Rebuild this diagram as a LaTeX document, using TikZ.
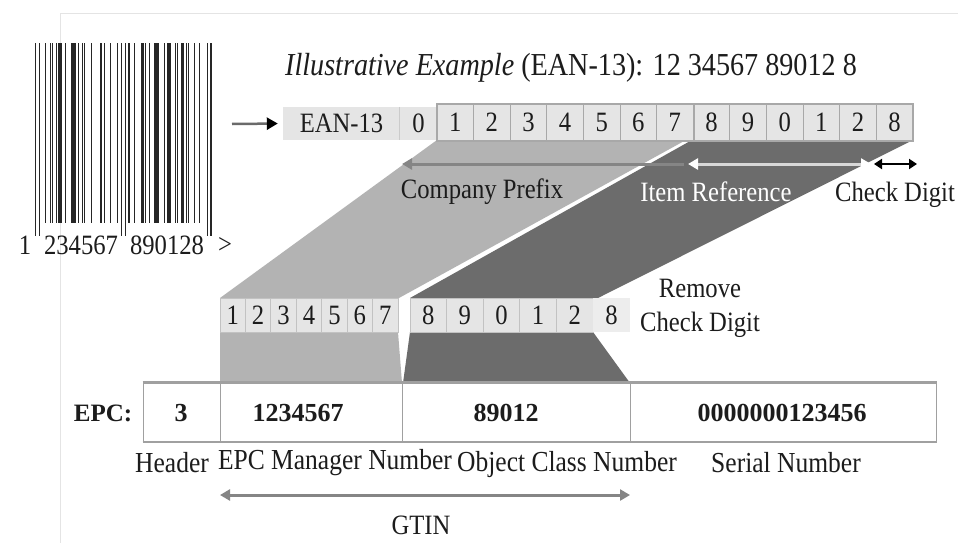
\documentclass[tikz,border=0pt]{standalone}
\usepackage{fontspec}
\setmainfont{Liberation Serif}[FakeStretch=0.88]
\newfontfamily\plainserif{Liberation Serif}
\usetikzlibrary{arrows.meta}
\definecolor{cellfill}{HTML}{E5E5E5}
\definecolor{cellline}{HTML}{A8A8A8}
\definecolor{bandlight}{HTML}{B3B3B3}
\definecolor{banddark}{HTML}{6C6C6C}
\definecolor{arrowgray}{HTML}{858585}
\definecolor{framegray}{HTML}{E4E4E4}
\definecolor{boxline}{HTML}{A0A0A0}
\definecolor{inkcol}{HTML}{1C1C1C}
\definecolor{pathlight}{HTML}{D8D8D8}
\tikzset{
  bigtri/.tip={Triangle[length=10pt,width=11pt]},
  whitetri/.tip={Triangle[length=10pt,width=11pt,color=white]},
  smalltri/.tip={Triangle[length=8pt,width=10pt]}
}
\begin{document}
\begin{tikzpicture}[x=1pt,y=-1pt,
  lbl/.style={font=\fontsize{28}{30}\selectfont, inner sep=0pt, text=inkcol},
  fieldlbl/.style={lbl, font=\fontsize{29}{31}\selectfont},
  boldlbl/.style={lbl, font=\plainserif\fontsize{26}{28}\selectfont\bfseries},
  topcell/.style={lbl, draw=cellline, line width=1pt, fill=cellfill,
    minimum width=36.6pt, minimum height=36pt},
  plaincell/.style={lbl, fill=cellfill, minimum height=33pt},
  midcell/.style={lbl, draw=cellline!70!white, line width=0.8pt, fill=cellfill,
    minimum width=36.6pt, minimum height=34pt},
  epccell/.style={draw=boxline, line width=1pt, fill=white, minimum height=58pt, inner sep=0pt}
]
\useasboundingbox (0,0) rectangle (958,543);
\fill[white] (0,0) rectangle (958,543);

% faint page frame
\draw[framegray, line width=1pt] (60,543) -- (60,14) -- (958,14);

% EAN-13 bar code of 1 234567 890128
\foreach \b [count=\i from 0] in {1,0,1,
  0,0,1,0,0,1,1, 0,1,1,1,1,0,1, 0,0,1,1,1,0,1, 0,1,1,0,0,0,1, 0,0,0,0,1,0,1, 0,0,1,0,0,0,1,
  0,1,0,1,0,
  1,0,0,1,0,0,0, 1,1,1,0,1,0,0, 1,1,1,0,0,1,0, 1,1,0,0,1,1,0, 1,1,0,1,1,0,0, 1,0,0,1,0,0,0,
  1,0,1} {
  \ifnum\b=1
    \fill[black!85] ({35+\i*1.863+0.2},43) rectangle ({35+(\i+1)*1.863-0.45},223);
  \fi
}
\foreach \i in {0,2,46,48,92,94}
  \fill[black!85] ({35+\i*1.863+0.2},43) rectangle ({35+(\i+1)*1.863-0.45},236);
\node[lbl] (bc1) at (25,245) {1};
\node[lbl] (bc2) at (81,245) {234567};
\node[lbl] (bc3) at (167,245) {890128};
\node[lbl] (bc4) at (225,245) {>};

% title
\node[lbl, font=\fontsize{32}{34}\selectfont] (title) at (571,68)
  {\textit{Illustrative Example} (EAN-13): 12 34567 89012 8};

% shaded bands mapping the digits down to the EPC fields
\fill[bandlight] (437,140) -- (686,140) -- (399,298) -- (220,298) -- cycle;
\fill[banddark] (692,140) -- (913,140) -- (598,298) -- (410,298) -- cycle;
\fill[bandlight] (220,332) -- (398,332) -- (402,383) -- (220,383) -- cycle;
\fill[banddark] (410,332) -- (593,332) -- (630,383) -- (403,383) -- cycle;

% top row: EAN-13 digits
\node[plaincell, minimum width=117pt] (ean) at (341.5,123.5) {EAN-13};
\node[plaincell, minimum width=37pt] (t0) at (418.5,123.5) {0};
\draw[cellline!60!white, line width=0.8pt] (t0.north west) -- (t0.south west);
\foreach \d [count=\i] in {1,2,3,4,5,6,7,8,9,0,1,2,8}
  \node[topcell] (t\i) at ({437+36.6*(\i-0.5)},122) {\d};
\draw[cellline, line width=2pt] (t1.north west) rectangle (t13.south east);
\draw[cellline, line width=2pt] (t7.north east) -- (t7.south east);

% arrow from the bar code
\coordinate (feedstart) at (232,124);
\draw[arrowgray!80!black, line width=2.5pt, -{Triangle[length=11pt,width=12pt,color=black]},
  shorten >=5pt] (feedstart) -- (ean.west);

% part markers under the top row
\coordinate (cpR) at (684,164);
\coordinate (cpL) at (402,164);
\draw[arrowgray, line width=3pt, -{bigtri}] (cpR) -- (cpL);
\coordinate (irL) at (688,164);
\coordinate (irR) at (871,164);
\draw[pathlight, line width=3pt, {whitetri}-{whitetri}] (irL) -- (irR);
\coordinate (cdL) at (874,164);
\coordinate (cdR) at (917,164);
\draw[black, line width=2.5pt, {smalltri}-{smalltri}] (cdL) -- (cdR);
\node[lbl] (cplbl) at (482,192) {Company Prefix};
\node[lbl, text=white] (irlbl) at (716,192) {Item Reference};
\node[lbl] (cdlbl) at (895,195) {Check Digit};

% middle row: digits without the check digit
\foreach \d [count=\i] in {1,2,3,4,5,6,7}
  \node[midcell, minimum width=25.43pt] (m\i) at ({220+25.43*(\i-0.5)},315) {\d};
\foreach \d [count=\i] in {8,9,0,1,2}
  \node[midcell] (n\i) at ({410+36.6*(\i-0.5)},315) {\d};
\node[lbl, fill=cellfill!70!white, minimum width=37pt, minimum height=34pt] (nchk) at (611.5,315) {8};
\node[lbl] (rmlbl1) at (700,288) {Remove};
\node[lbl] (rmlbl2) at (700,325) {Check Digit};

% EPC fields
\node[epccell, minimum width=77pt] (e1) at (181.5,412) {};
\node[epccell, minimum width=182pt] (e2) at (311,412) {};
\node[epccell, minimum width=228pt] (e3) at (516,412) {};
\node[epccell, minimum width=306pt] (e4) at (783,412) {};
\draw[boxline, line width=2.5pt] (e1.north west) -- (e4.north east);
\draw[boxline, line width=2pt] (e1.south west) -- (e4.south east);
\node[boldlbl, font=\plainserif\fontsize{25}{27}\selectfont\bfseries] (epclbl) at (103,413) {EPC:};
\node[boldlbl] (v1) at (181,413) {3};
\node[boldlbl] (v2) at (298,413) {1234567};
\node[boldlbl] (v3) at (506,413) {89012};
\node[boldlbl] (v4) at (782,413) {0000000123456};

\node[fieldlbl] (f1) at (172,463) {Header};
\node[fieldlbl] (f2) at (335,463) {EPC Manager Number};
\node[fieldlbl] (f3) at (567,465) {Object Class Number};
\node[fieldlbl] (f4) at (786,463) {Serial Number};

% GTIN span
\coordinate (gtinL) at (220,495);
\coordinate (gtinR) at (630,495);
\draw[arrowgray, line width=3pt, {bigtri}-{bigtri}] (gtinL) -- (gtinR);
\node[lbl] (gtin) at (421,525) {GTIN};
\end{tikzpicture}
\end{document}
